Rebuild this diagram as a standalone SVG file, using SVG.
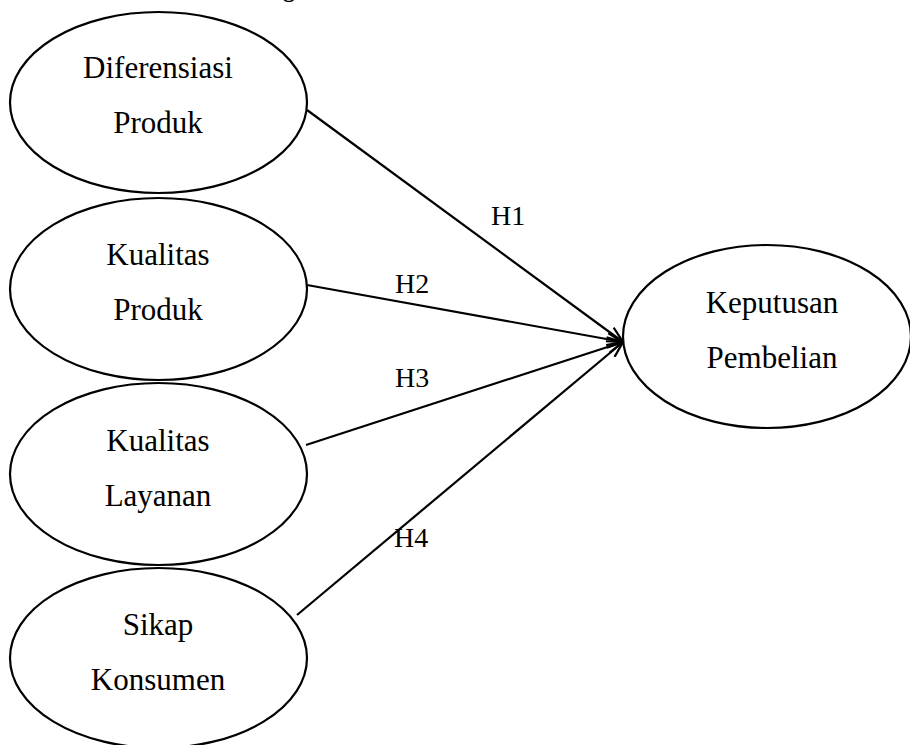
<svg xmlns="http://www.w3.org/2000/svg" width="910" height="745" viewBox="0 0 910 745">
<defs>
<style>
.node ellipse{fill:#fff;stroke:#000;stroke-width:2.2}
.node text{font-family:"Liberation Serif","Times New Roman",serif;font-size:31px;fill:#000;text-anchor:middle}
.lbl{font-family:"Liberation Serif","Times New Roman",serif;font-size:28px;fill:#000}
.conn line{stroke:#000;stroke-width:2.2;marker-end:url(#arr)}
</style>
<marker id="arr" viewBox="0 0 18 14" refX="17" refY="7" markerWidth="18" markerHeight="14" markerUnits="userSpaceOnUse" orient="auto">
<path d="M1,1 L17,7 L1,13" fill="none" stroke="#000" stroke-width="2.2"/>
</marker>
</defs>
<rect width="910" height="745" fill="#fff"/>
<text x="283" y="-3" style="font-family:'Liberation Serif',serif;font-size:24px;font-weight:bold">g</text>
<g class="conn">
<line x1="307" y1="110" x2="623" y2="342"/>
<line x1="307" y1="285" x2="623" y2="342"/>
<line x1="306" y1="445" x2="623" y2="342"/>
<line x1="297" y1="615" x2="623" y2="342"/>
</g>
<text class="lbl" x="491" y="225">H1</text>
<text class="lbl" x="395" y="293">H2</text>
<text class="lbl" x="395" y="387">H3</text>
<text class="lbl" x="394" y="547">H4</text>
<g id="n1" class="node">
<ellipse cx="158.5" cy="102.5" rx="148.5" ry="90.5"/>
<text x="158" y="78">Diferensiasi</text>
<text x="158" y="133">Produk</text>
</g>
<g id="n2" class="node">
<ellipse cx="158.5" cy="289" rx="148.5" ry="91"/>
<text x="158" y="265">Kualitas</text>
<text x="158" y="320">Produk</text>
</g>
<g id="n3" class="node">
<ellipse cx="158.5" cy="474" rx="148.5" ry="91"/>
<text x="158" y="451">Kualitas</text>
<text x="158" y="506">Layanan</text>
</g>
<g id="n4" class="node">
<ellipse cx="158.5" cy="658" rx="148.5" ry="90"/>
<text x="158" y="635">Sikap</text>
<text x="158" y="690">Konsumen</text>
</g>
<g id="n5" class="node">
<ellipse cx="767" cy="336.5" rx="144" ry="91.5"/>
<text x="772" y="313">Keputusan</text>
<text x="772" y="368">Pembelian</text>
</g>
</svg>
